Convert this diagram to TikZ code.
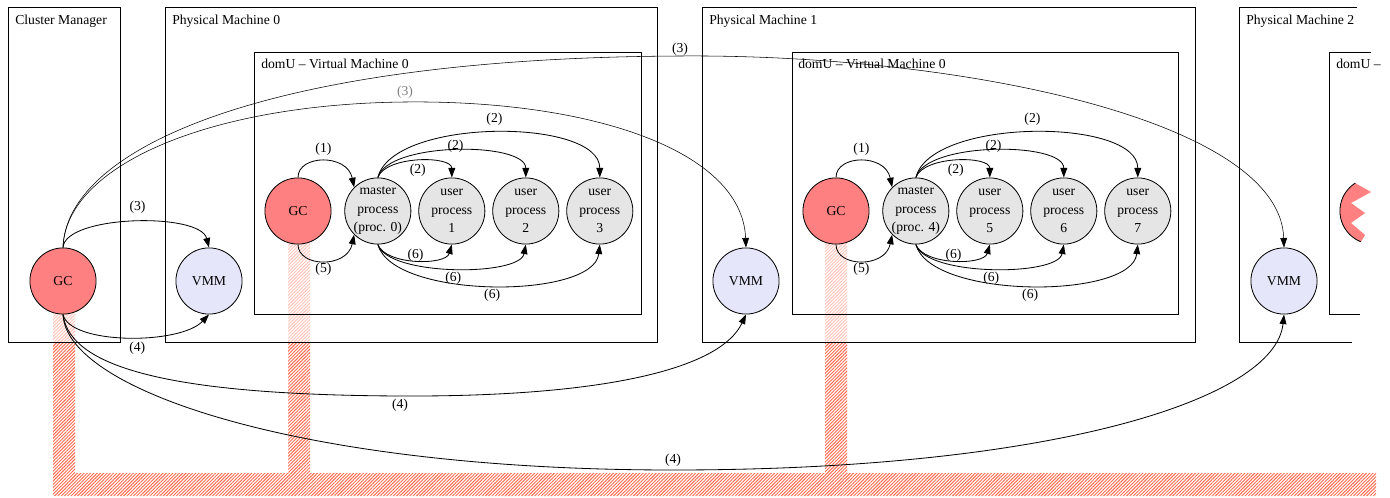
\documentclass[tikz,border=0pt]{standalone}
\usepackage{fontspec}
\setmainfont{Liberation Serif}
\usetikzlibrary{arrows.meta,positioning,patterns.meta}
\definecolor{gcred}{HTML}{FF8080}
\definecolor{vmmblue}{HTML}{E6E6FA}
\definecolor{procgray}{HTML}{E5E5E5}
\definecolor{hatchred}{HTML}{FF6A4D}

\begin{document}
\begin{tikzpicture}[
  x=0.0257cm, y=-0.0257cm,
  font=\fontsize{10}{13.5}\selectfont,
  box/.style={draw, line width=0.6pt, fill=white, fill opacity=0.6},
  vmbox/.style={draw, line width=0.6pt},
  title/.style={anchor=base west, inner sep=0pt},
  gcnode/.style={circle, draw, line width=0.6pt, fill=gcred, minimum size=1.7cm,
    inner sep=0pt},
  vmmnode/.style={gcnode, fill=vmmblue},
  procnode/.style={gcnode, fill=procgray, align=center, inner sep=-1.5pt},
  lbl/.style={inner sep=1pt, font=\fontsize{10}{12}\selectfont},
  arrow/.style={-{Triangle[length=7pt, width=5pt]}, line width=0.6pt},
  longarrow/.style={-{Triangle[length=7pt, width=5pt]}, line width=0.4pt},
  hatch/.style={pattern={Lines[angle=45, distance=1.7pt, line width=0.7pt]},
    pattern color=hatchred}
]
  \useasboundingbox (0,0) rectangle (1390,498);

  % shared memory band
  \path[hatch] (53,281) -- (75,281) -- (75,473) -- (288,473) -- (288,211)
    -- (310,211) -- (310,473) -- (825,473) -- (825,211) -- (847,211)
    -- (847,473) -- (1376,473) -- (1376,496) -- (53,496) -- cycle;

  % machines
  \draw[box] (8,7) rectangle (120,342);
  \draw[box] (165,7) rectangle (657,342);
  \draw[box] (702,7) rectangle (1195,342);
  \path[fill=white, fill opacity=0.6] (1239,7) rectangle (1357,342);
  \draw[vmbox] (1357,7) -- (1239,7) -- (1239,342) -- (1352,342);

  \draw[vmbox] (254,52) rectangle (641,314);
  \draw[vmbox] (792,52) rectangle (1178,314);
  \draw[vmbox] (1371,52) -- (1329,52) -- (1329,314) -- (1360,314);

  \node[title] (tcm) at (15,25) {Cluster Manager};
  \node[title] (tpm0) at (172,25) {Physical Machine 0};
  \node[title] (tvm0) at (261,69) {domU -- Virtual Machine 0};
  \node[title] (tpm1) at (709,25) {Physical Machine 1};
  \node[title] (tvm1) at (798,69) {domU -- Virtual Machine 0};
  \node[title] (tpm2) at (1246,25) {Physical Machine 2};
  \node[title] (tvm2) at (1336,69) {domU --};

  % cluster manager and monitors
  \node[gcnode] (gcm) at (63,281) {GC};
  \node[vmmnode] (vmm0) at (209,281) {VMM};
  \node[vmmnode] (vmm1) at (746,281) {VMM};
  \node[vmmnode] (vmm2) at (1284,281) {VMM};

  % virtual machine on PM 0
  \node[gcnode] (gc0) at (298,211) {GC};
  \node[procnode, right=0.33cm of gc0] (mp0) {master\\process\\(proc. 0)};
  \node[procnode, right=0.18cm of mp0] (up1) {user\\process\\1};
  \node[procnode, right=0.18cm of up1] (up2) {user\\process\\2};
  \node[procnode, right=0.18cm of up2] (up3) {user\\process\\3};

  % virtual machine on PM 1
  \node[gcnode] (gc1) at (836,211) {GC};
  \node[procnode, right=0.33cm of gc1] (mp1) {master\\process\\(proc. 4)};
  \node[procnode, right=0.18cm of mp1] (up5) {user\\process\\5};
  \node[procnode, right=0.18cm of up5] (up6) {user\\process\\6};
  \node[procnode, right=0.18cm of up6] (up7) {user\\process\\7};

  % cut-off collector on PM 2
  \begin{scope}
    \clip (1320,150) -- (1340,150) -- (1355,183) -- (1371,192) -- (1351,203)
      -- (1365,213) -- (1351,223) -- (1365,235) -- (1362,240) -- (1340,275)
      -- (1320,275) -- cycle;
    \node[gcnode] (gc2) at (1373,211) {};
  \end{scope}

  % inside VM 0
  \draw[arrow] (gc0.north) .. controls +(0,-23) and +(-7,-34) .. (mp0.135)
    node[lbl, midway, yshift=9pt] {(1)};
  \draw[arrow] (gc0.south) .. controls +(0,23) and +(-7,34) .. (mp0.225)
    node[lbl, midway, yshift=-6pt] {(5)};
  \draw[arrow] (mp0.north) .. controls +(8,-22) and +(0,-22) .. (up1.north)
    node[lbl, midway, yshift=-7pt] {(2)};
  \draw[arrow] (mp0.north) .. controls +(10,-36) and +(0,-36) .. (up2.north)
    node[lbl, midway, yshift=3pt] {(2)};
  \draw[arrow] (mp0.north) .. controls +(15,-60) and +(0,-60) .. (up3.north)
    node[lbl, midway, yshift=10pt] {(2)};
  \draw[arrow] (mp0.south) .. controls +(8,21) and +(-6,21) .. (up1.south)
    node[lbl, midway, yshift=4pt] {(6)};
  \draw[arrow] (mp0.south) .. controls +(10,32) and +(-6,32) .. (up2.south)
    node[lbl, midway, yshift=-7pt] {(6)};
  \draw[arrow] (mp0.south) .. controls +(15,55) and +(-6,55) .. (up3.south)
    node[lbl, midway, yshift=-7pt] {(6)};

  % inside VM on PM 1
  \draw[arrow] (gc1.north) .. controls +(0,-23) and +(-7,-34) .. (mp1.135)
    node[lbl, midway, yshift=9pt] {(1)};
  \draw[arrow] (gc1.south) .. controls +(0,23) and +(-7,34) .. (mp1.225)
    node[lbl, midway, yshift=-6pt] {(5)};
  \draw[arrow] (mp1.north) .. controls +(8,-22) and +(0,-22) .. (up5.north)
    node[lbl, midway, yshift=-7pt] {(2)};
  \draw[arrow] (mp1.north) .. controls +(10,-36) and +(0,-36) .. (up6.north)
    node[lbl, midway, yshift=3pt] {(2)};
  \draw[arrow] (mp1.north) .. controls +(15,-60) and +(0,-60) .. (up7.north)
    node[lbl, midway, yshift=10pt] {(2)};
  \draw[arrow] (mp1.south) .. controls +(8,21) and +(-6,21) .. (up5.south)
    node[lbl, midway, yshift=4pt] {(6)};
  \draw[arrow] (mp1.south) .. controls +(10,32) and +(-6,32) .. (up6.south)
    node[lbl, midway, yshift=-7pt] {(6)};
  \draw[arrow] (mp1.south) .. controls +(15,55) and +(-6,55) .. (up7.south)
    node[lbl, midway, yshift=-7pt] {(6)};

  % cluster manager to the monitors
  \draw[arrow] (gcm.north) .. controls (65,215) and (200,212) .. (vmm0.north)
    node[lbl, midway, yshift=11pt, xshift=3pt] {(3)};
  \draw[arrow] (gcm.south) .. controls (70,345) and (180,345) .. (vmm0.south)
    node[lbl, midway, yshift=-8pt, xshift=7pt] {(4)};
  \draw[longarrow] (gcm.north) .. controls (66,165) and (210,104) .. (405,102)
    node[lbl, text=black!50, yshift=7pt] {(3)}
    .. controls (590,100) and (742,150) .. (vmm1.north);
  \draw[longarrow] (gcm.north) .. controls (66,150) and (260,58) .. (680,56)
    node[lbl, yshift=5pt] {(3)}
    .. controls (960,54) and (1280,120) .. (vmm2.north);
  \draw[arrow] (gcm.south) .. controls (70,370) and (180,395) .. (400,396)
    node[lbl, yshift=-7pt] {(4)}
    .. controls (600,397) and (720,370) .. (vmm1.south);
  \draw[arrow] (gcm.south) .. controls (66,390) and (300,470) .. (673,470)
    node[lbl, yshift=7pt] {(4)}
    .. controls (1050,470) and (1275,400) .. (vmm2.south);

\end{tikzpicture}
\end{document}
